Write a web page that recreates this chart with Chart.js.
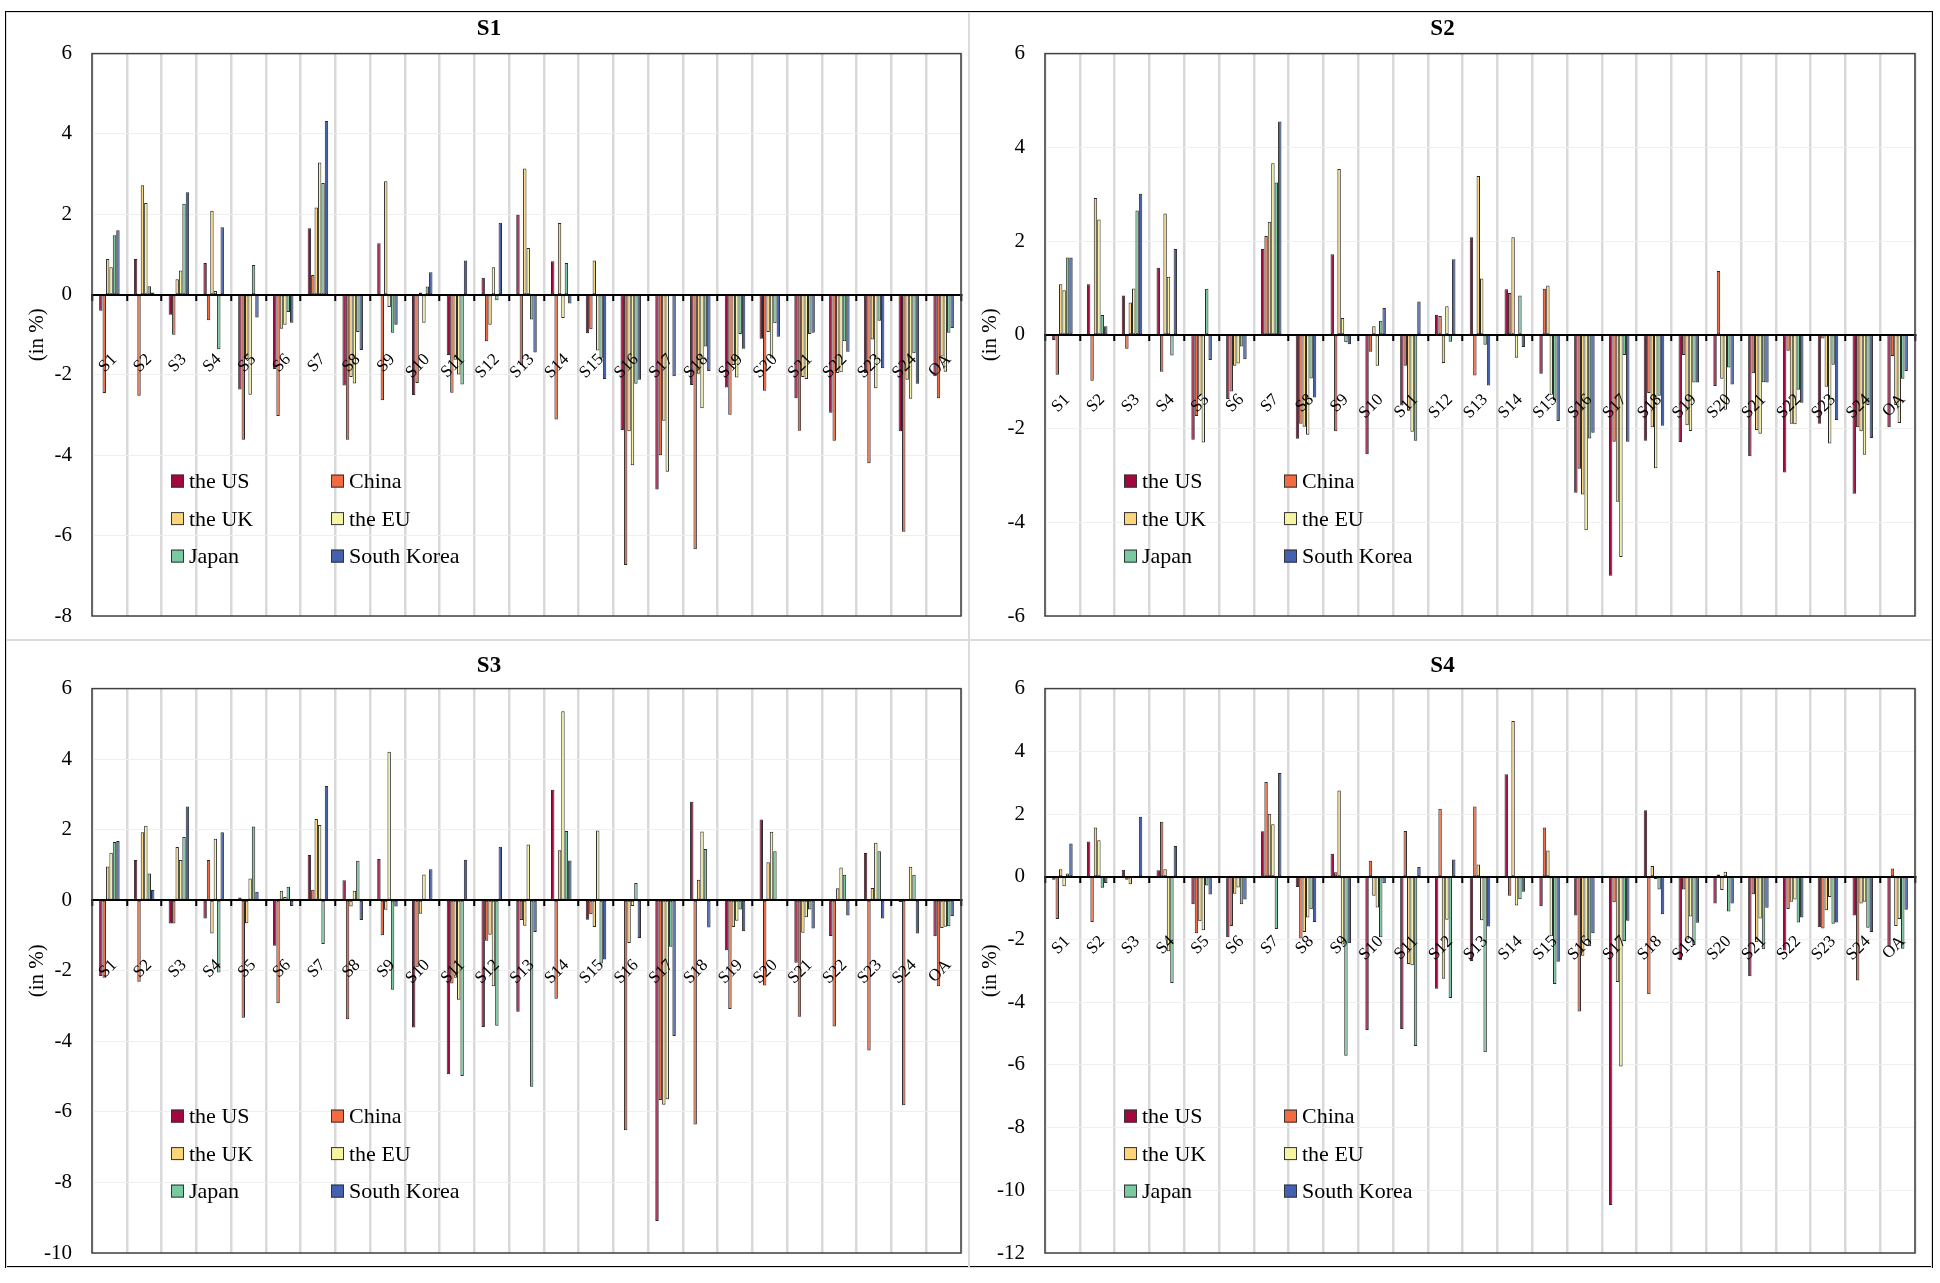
<!DOCTYPE html>
<html>
<head>
<meta charset="utf-8">
<script src="https://cdn.jsdelivr.net/npm/chart.js@4.4.0/dist/chart.umd.min.js"></script>
<style>
  html, body { margin: 0; padding: 0; background: #fff; }
  #page { position: relative; width: 1940px; height: 1283px; overflow: hidden; }
  #frame { position: absolute; left: 5px; top: 11px; width: 1924px; height: 1253px; border: 2px solid #000; }
  .cell { position: absolute; width: 963px; height: 628px; box-sizing: border-box; border: 1px solid #dcdcdc; }
  .cell canvas { position: absolute; left: 0; top: 0; }
</style>
</head>
<body>
<div id="page">
  <div id="frame"></div>
  <div class="cell" style="left:6px;top:12px"><canvas id="c1" width="963" height="628"></canvas></div>
  <div class="cell" style="left:969px;top:12px"><canvas id="c2" width="963" height="628"></canvas></div>
  <div class="cell" style="left:6px;top:640px"><canvas id="c3" width="963" height="628"></canvas></div>
  <div class="cell" style="left:969px;top:640px"><canvas id="c4" width="963" height="628"></canvas></div>
</div>
<script>
// categories and series
var sectors = ["S1", "S2", "S3", "S4", "S5", "S6", "S7", "S8", "S9", "S10", "S11", "S12", "S13",
  "S14", "S15", "S16", "S17", "S18", "S19", "S20", "S21", "S22", "S23", "S24", "OA"];
var seriesNames = ["the US", "China", "the UK", "the EU", "Japan", "South Korea"];
var seriesColors = ["#a1083f", "#f26b43", "#fcd57a", "#f4f4a3", "#79c9a1", "#4361b0"];
var yTicksS1 = [-8, 6];
var yTicksS2 = [-6, 6];
var yTicksS3 = [-10, 6];
var yTicksS4 = [-12, 6];

// scenario S1 (in %)
var s1US = [-0.4, 0.89, -0.5, 0.79, -2.36, -1.85, 1.65, -2.26, 1.28, -2.5, -1.5, 0.42, 1.99, 0.83, -0.96, -3.37, -4.85, -2.25, -2.31, -1.1, -2.58, -2.94, -1.95, -3.4, -2.03];
var s1China = [-2.45, -2.52, -1.0, -0.64, -3.61, -3.02, 0.49, -3.61, -2.63, -2.2, -2.44, -1.16, -1.75, -3.11, -0.86, -6.73, -4.0, -6.34, -2.99, -2.39, -3.39, -3.64, -4.2, -5.9, -2.58];
var s1UK = [0.89, 2.72, 0.38, 2.09, -1.6, -0.85, 2.17, -2.05, 2.82, 0.05, -1.62, -0.75, 3.14, 1.78, 0.85, -3.4, -3.14, -1.97, -1.75, -0.93, -2.05, -1.95, -1.12, -2.12, -1.54];
var s1EU = [0.68, 2.28, 0.6, 0.09, -2.49, -0.75, 3.29, -2.21, -0.31, -0.7, -1.99, 0.68, 1.16, -0.58, -1.39, -4.25, -4.41, -2.83, -2.06, -1.59, -2.1, -1.93, -2.33, -2.59, -1.92];
var s1Japan = [1.48, 0.21, 2.26, -1.36, 0.74, -0.43, 2.78, -0.93, -0.95, 0.2, -2.24, -0.14, -0.62, 0.79, -1.59, -2.22, -0.04, -1.29, -0.98, -0.71, -0.98, -1.16, -0.65, -1.46, -0.95];
var s1Korea = [1.6, 0.05, 2.55, 1.68, -0.57, -0.7, 4.32, -1.38, -0.75, 0.56, 0.85, 1.79, -1.44, -0.22, -2.1, -2.12, -2.03, -1.9, -1.35, -1.05, -0.95, -1.42, -1.83, -2.22, -0.83];

// scenario S2
var s2US = [-0.11, 1.08, 0.84, 1.43, -2.24, -1.37, 1.83, -2.22, 1.72, -2.55, -1.51, 0.43, 2.08, 0.97, -0.83, -3.37, -5.14, -2.26, -2.29, -1.09, -2.59, -2.94, -1.9, -3.39, -1.97];
var s2China = [-0.85, -0.98, -0.3, -0.79, -1.73, -1.21, 2.11, -1.9, -2.06, -0.36, -0.66, 0.4, -0.87, 0.89, 0.98, -2.86, -2.28, -1.24, -0.43, 1.36, -0.82, -0.34, -0.08, -1.97, -0.45];
var s2UK = [1.08, 2.92, 0.69, 2.59, -1.3, -0.66, 2.41, -1.96, 3.54, 0.18, -1.62, -0.6, 3.39, 2.08, 1.05, -3.41, -3.56, -1.97, -1.93, -0.94, -2.03, -1.9, -1.11, -2.06, -1.5];
var s2EU = [0.95, 2.46, 0.99, 1.24, -2.3, -0.61, 3.66, -2.13, 0.36, -0.66, -2.07, 0.61, 1.2, -0.49, -1.28, -4.17, -4.74, -2.85, -2.05, -1.6, -2.11, -1.91, -2.32, -2.56, -1.88];
var s2Japan = [1.65, 0.42, 2.65, -0.44, 0.98, -0.25, 3.25, -0.93, -0.16, 0.3, -2.26, -0.15, -0.21, 0.84, -1.39, -2.21, -0.43, -1.3, -1.02, -0.7, -1.01, -1.17, -0.64, -1.5, -0.94];
var s2Korea = [1.65, 0.18, 3.01, 1.83, -0.54, -0.52, 4.55, -1.34, -0.2, 0.57, 0.71, 1.61, -1.08, -0.26, -1.84, -2.09, -2.28, -1.94, -1.02, -1.06, -1.02, -1.45, -1.82, -2.2, -0.77];

// scenario S3
var s3US = [-2.15, 1.14, -0.66, -0.52, 0.08, -1.29, 1.28, 0.57, 1.17, -3.61, -4.93, -3.59, -3.16, 3.13, -0.55, 0, -9.09, 2.79, -1.42, 2.29, -1.77, -1.01, 1.34, -0.05, -1.02];
var s3China = [-2.2, -2.31, -0.66, 1.14, -3.33, -2.92, 0.3, -3.37, -0.99, -1.9, -2.36, -1.15, -0.56, -2.79, -0.4, -6.52, -5.66, -6.36, -3.08, -2.42, -3.3, -3.58, -4.26, -5.81, -2.44];
var s3UK = [0.96, 1.93, 1.51, -0.94, -0.65, 0.27, 2.3, -0.18, -0.27, -0.38, -2.2, -0.98, -0.72, 1.42, -0.76, -1.21, -5.8, 0.58, -0.76, 1.08, -0.92, 0.34, 0.35, 0.02, -0.79];
var s3EU = [1.35, 2.11, 1.14, 1.74, 0.62, 0.09, 2.13, 0.27, 4.21, 0.73, -2.82, -2.44, 1.58, 5.36, 1.98, -0.16, -5.64, 1.95, -0.58, 1.94, -0.48, 0.93, 1.63, 0.95, -0.75];
var s3Japan = [1.65, 0.76, 1.79, -2.05, 2.09, 0.38, -1.24, 1.12, -2.54, 0.02, -4.98, -3.56, -5.29, 1.96, -1.79, 0.49, -1.32, 1.45, -0.26, 1.39, -0.26, 0.72, 1.39, 0.72, -0.74];
var s3Korea = [1.68, 0.29, 2.66, 1.93, 0.24, -0.16, 3.24, -0.56, -0.18, 0.88, 1.15, 1.52, -0.9, 1.13, -1.68, -1.07, -3.85, -0.77, -0.88, 0, -0.8, -0.43, -0.52, -0.94, -0.45];

// scenario S4
var s4US = [-0.1, 1.12, 0.22, 0.21, -0.88, -1.93, 1.45, -0.33, 0.73, -4.89, -4.86, -3.57, -2.69, 3.27, -0.94, -1.24, -10.47, 2.12, -2.66, -0.85, -3.17, -2.35, -1.61, -1.24, -2.2];
var s4China = [-1.35, -1.44, -0.1, 1.75, -1.8, -1.57, 3.02, -1.97, 0.14, 0.51, 1.46, 2.17, 2.24, -0.61, 1.57, -4.3, -0.81, -3.75, -0.41, 0.07, -0.56, -1.03, -1.65, -3.31, 0.26];
var s4UK = [0.24, 1.57, -0.24, 0.24, -1.42, -0.54, 2.01, -1.76, 2.75, -0.61, -2.78, -3.25, 0.39, 4.97, 0.84, -2.52, -3.36, 0.34, -2.0, -0.42, -2.09, -0.8, -1.07, -0.85, -1.57];
var s4EU = [-0.3, 1.16, -0.03, -2.38, -1.71, -0.34, 1.67, -1.3, -2.16, -0.98, -2.82, -1.37, -1.39, -0.92, -1.9, -2.03, -6.05, -0.07, -1.27, 0.16, -1.33, -0.73, -0.65, -0.8, -1.35];
var s4Japan = [0.1, -0.35, -0.04, -3.39, -0.28, -0.88, -1.67, -1.04, -5.71, -1.93, -5.4, -3.87, -5.6, -0.72, -3.42, -2.22, -2.05, -0.41, -2.18, -1.11, -2.31, -1.46, -1.5, -1.63, -2.3];
var s4Korea = [1.06, -0.2, 1.91, 0.98, -0.57, -0.73, 3.31, -1.44, -2.12, -0.21, 0.31, 0.55, -1.59, -0.48, -2.71, -1.8, -1.4, -1.2, -1.47, -0.85, -0.99, -1.3, -1.46, -1.76, -1.05];

var SERIF = '"Liberation Serif", "Times New Roman", serif';

// legend drawn inside the plot area, two columns
var insideLegend = {
  id: "insideLegend",
  afterDraw: function (chart) {
    var ctx = chart.ctx;
    var a = chart.chartArea;
    ctx.save();
    ctx.font = "22px " + SERIF;
    ctx.textBaseline = "middle";
    chart.data.datasets.forEach(function (ds, i) {
      var x = a.left + 79 + (i % 2) * 160;
      var y = a.top + 428 + Math.floor(i / 2) * 37.5;
      ctx.fillStyle = ds.backgroundColor;
      ctx.fillRect(x, y - 7, 13, 13);
      ctx.strokeStyle = "#333";
      ctx.lineWidth = 1;
      ctx.strokeRect(x + 0.5, y - 6.5, 12, 12);
      ctx.fillStyle = "#000";
      ctx.fillText(ds.label, x + 18, y + 1);
    });
    ctx.restore();
  },
};

// dark frame round the plot area
var plotFrame = {
  id: "plotFrame",
  afterDraw: function (chart) {
    var ctx = chart.ctx;
    var a = chart.chartArea;
    ctx.save();
    ctx.strokeStyle = "#404040";
    ctx.lineWidth = 1.5;
    ctx.strokeRect(a.left, a.top, a.right - a.left, a.bottom - a.top);
    ctx.restore();
  },
};

function makePanel(canvasId, title, values, range, padLeft, padRight, titlePad, padBottom) {
  var datasets = seriesNames.map(function (name, i) {
    return {
      label: name,
      data: values[i],
      backgroundColor: seriesColors[i],
      borderColor: "#2a2a2a",
      borderWidth: 1,
      borderSkipped: false,
      categoryPercentage: 0.59,
      barPercentage: 1,
    };
  });

  return new Chart(document.getElementById(canvasId), {
    type: "bar",
    data: { labels: sectors, datasets: datasets },
    plugins: [insideLegend, plotFrame],
    options: {
      responsive: false,
      animation: false,
      layout: { padding: { left: padLeft, right: padRight, top: 0, bottom: padBottom } },
      plugins: {
        legend: { display: false },
        tooltip: { enabled: false },
        title: {
          display: true,
          text: title,
          color: "#000",
          font: { family: SERIF, size: 23, weight: "bold" },
          padding: titlePad,
        },
      },
      scales: {
        x: {
          position: { y: 0 },
          grid: { color: "#d9d9d9", lineWidth: 2.5, tickColor: "#000", tickLength: 5, tickWidth: 2, offset: true },
          border: { display: true, color: "#000", width: 2, z: 1 },
          ticks: {
            autoSkip: false,
            minRotation: 45,
            maxRotation: 45,
            padding: 50,
            labelOffset: 5,
            color: "#000",
            font: { family: SERIF, size: 17 },
            z: 1,
          },
          afterFit: function (s) {
            s.paddingLeft = 0;
            s.paddingRight = 0;
          },
        },
        y: {
          min: range[0],
          max: range[1],
          ticks: { stepSize: 2, color: "#000", font: { family: SERIF, size: 21 }, padding: 20 },
          grid: { color: "#efefef", lineWidth: 1, drawTicks: false },
          border: { display: false },
          title: {
            display: true,
            text: "(in %)",
            color: "#000",
            font: { family: SERIF, size: 21 },
            padding: { top: 8, bottom: 0 },
          },
          afterFit: function (s) {
            s.width = 75;
            s.paddingTop = 0;
            s.paddingBottom = 0;
          },
        },
      },
    },
  });
}

makePanel("c1", "S1", [s1US, s1China, s1UK, s1EU, s1Japan, s1Korea], yTicksS1, 10, 9, { top: 2, bottom: 11 }, 25);
makePanel("c2", "S2", [s2US, s2China, s2UK, s2EU, s2Japan, s2Korea], yTicksS2, 0, 18, { top: 2, bottom: 11 }, 25);
makePanel("c3", "S3", [s3US, s3China, s3UK, s3EU, s3Japan, s3Korea], yTicksS3, 10, 9, { top: 11, bottom: 9 }, 16);
makePanel("c4", "S4", [s4US, s4China, s4UK, s4EU, s4Japan, s4Korea], yTicksS4, 0, 18, { top: 11, bottom: 9 }, 16);
</script>
</body>
</html>
